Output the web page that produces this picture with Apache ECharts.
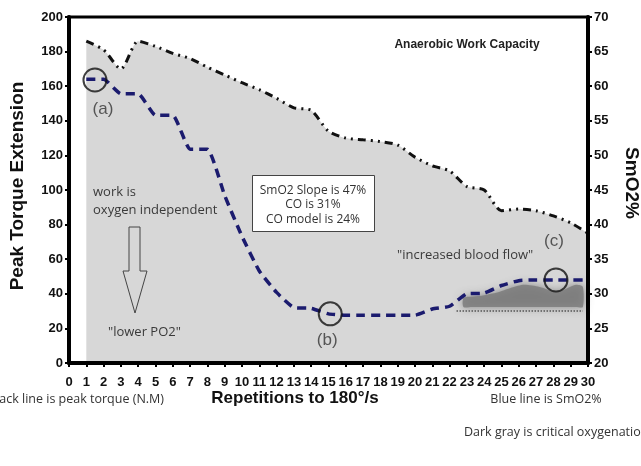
<!DOCTYPE html>
<html><head><meta charset="utf-8">
<script src="https://cdn.jsdelivr.net/npm/echarts@6/dist/echarts.min.js"></script>
<style>html,body{margin:0;padding:0;background:#fff;overflow:hidden}#c{width:641px;height:466px}</style>
</head><body><div id="c"></div>
<script>
// ---- data ----
const reps = [1,2,3,4,5,6,7,8,9,10,11,12,13,14,15,16,17,18,19,20,21,22,23,24,25,26,27,28,29,30];
const peakTorque = [186,181,170,186,183,179,176,171,166.5,162,158,153,147.5,146,134,130,129,128,126,119,114,111,102,100,88,89,88,85,81,75];
const smo2 = [61,61,58.9,58.9,55.8,55.8,50.9,50.9,44.2,38.3,33.3,30.2,28,27.9,27.1,26.9,26.9,26.9,26.9,26.9,27.8,28.2,30,30.1,31.2,31.9,32,32,32,32];
const critX = [22.8,23.3,24,24.9,25.6,26.3,27.2,28.2,28.8,29.3,29.7];
const critTop = [29.4,29.6,29.8,30.3,30.9,31.3,31.0,30.3,30.8,31.3,31.0];
const critBottom = [28.1,28.1,28.1,28.1,28.1,28.1,28.1,28.1,28.1,28.1,28.1];
const critLineX = [22.4,29.7];
const critLineY = [27.5,27.5];
const circlePts = [[1.5,60.9],[15.1,27.1],[28.15,32]];
const circleLabels = ['(a)','(b)','(c)'];
const leftTicks = {min:0,max:200,interval:20};
const rightTicks = {min:20,max:70,interval:5};
const xTicks = {min:0,max:30,interval:1};

const chart = echarts.init(document.getElementById('c'), null, {renderer:'canvas'});
const bold = {color:'#111', fontWeight:'bold', fontSize:13, fontFamily:'Liberation Sans'};
const axisCommon = {
  axisLine:{show:true, lineStyle:{color:'#000', width:4}},
  axisTick:{show:true, length:4, lineStyle:{color:'#000', width:2}},
  splitLine:{show:false}, z:10
};
const txt = (x,y,t,extra) => Object.assign({type:'text', x, y, z:100, style:Object.assign({text:t, fill:'#3a3a3a', font:'13px "Open Sans"', textAlign:'left', textVerticalAlign:'middle'}, extra||{})});
const labelOffsets = [[8,3],[-3,0],[-2,-13]];
const labelPos = ['bottom','bottom','top'];

chart.setOption({
  animation:false,
  backgroundColor:'#fff',
  grid:{left:69, right:53, top:17, bottom:103, show:true, borderColor:'#000', borderWidth:3, backgroundColor:'rgba(0,0,0,0)'},
  xAxis:Object.assign({type:'value', min:xTicks.min, max:xTicks.max, interval:xTicks.interval,
    axisLabel:Object.assign({margin:13}, bold)}, axisCommon),
  yAxis:[
    Object.assign({type:'value', position:'left', min:leftTicks.min, max:leftTicks.max, interval:leftTicks.interval,
      axisLabel:Object.assign({margin:6}, bold)}, axisCommon),
    Object.assign({type:'value', position:'right', min:rightTicks.min, max:rightTicks.max, interval:rightTicks.interval,
      axisLabel:Object.assign({margin:6}, bold)}, axisCommon)
  ],
  series:[
    {name:'Peak torque', type:'line', yAxisIndex:0, smooth:0.25, symbol:'none', z:2,
     data:reps.map((x,i)=>[x,peakTorque[i]]),
     lineStyle:{color:'#111', width:3, type:[8,5,2,5,2,5]},
     areaStyle:{color:'#d7d7d7', opacity:1, origin:'start'}},
    {name:'Critical oxygenation', type:'custom', yAxisIndex:1, z:3,
     data:[0],
     renderItem:function(params, api){
       const top = critX.map((x,i)=>api.coord([x, critTop[i]]));
       const bot = critX.map((x,i)=>api.coord([x, critBottom[i]])).reverse();
       return {type:'polygon', shape:{points:top.concat(bot), smooth:0.25},
         style:{fill:'rgba(125,125,125,0.85)', shadowBlur:10, shadowColor:'rgba(110,110,110,0.9)'}};
     }},
    {name:'critLine', type:'line', yAxisIndex:1, symbol:'none', z:4,
     data:critLineX.map((x,i)=>[x,critLineY[i]]), lineStyle:{type:'dotted', color:'#555', width:1.5}},
    {name:'SmO2', type:'line', yAxisIndex:1, smooth:0.15, symbol:'none', z:5,
     data:reps.map((x,i)=>[x,smo2[i]]),
     lineStyle:{color:'#1b1b6e', width:3.5, type:[9,6]}},
    {name:'circles', type:'scatter', yAxisIndex:1, symbol:'circle', symbolSize:23, z:6,
     itemStyle:{color:'rgba(0,0,0,0)', borderColor:'#111', borderWidth:2},
     data:circlePts.map((p,i)=>({value:p, label:{show:true, formatter:circleLabels[i], position:labelPos[i], offset:labelOffsets[i],
       color:'#333', fontSize:17, fontFamily:'Liberation Sans'}}))}
  ],
  graphic:[
    txt(467,45,'Anaerobic Work Capacity',{font:'bold 12px "Liberation Sans"', fill:'#222', textAlign:'center'}),
    txt(93,192,'work is'),
    txt(93,210,'oxygen independent'),
    {type:'polygon', z:100, shape:{points:[[129,227],[140,227],[140,271],[147,271],[135,313],[123,271],[129,271]]},
     style:{fill:'rgba(0,0,0,0)', stroke:'#444', lineWidth:1}},
    txt(108,332,'"lower PO2"'),
    txt(397,255,'"increased blood flow"'),
    {type:'rect', z:100, shape:{x:252.5,y:175.5,width:122,height:56}, style:{fill:'#fff', stroke:'#444', lineWidth:1}},
    txt(313,191,'SmO2 Slope is 47%',{font:'12px "Open Sans"', textAlign:'center', fill:'#333'}),
    txt(313,205,'CO is 31%',{font:'12px "Open Sans"', textAlign:'center', fill:'#333'}),
    txt(313,220,'CO model is 24%',{font:'12px "Open Sans"', textAlign:'center', fill:'#333'}),
    {type:'text', z:100, x:18, y:186, rotation:Math.PI/2,
     style:{text:'Peak Torque Extension', font:'bold 19px "Liberation Sans"', fill:'#111', textAlign:'center', textVerticalAlign:'middle'}},
    {type:'text', z:100, x:631, y:183, rotation:-Math.PI/2,
     style:{text:'SmO2%', font:'bold 19px "Liberation Sans"', fill:'#111', textAlign:'center', textVerticalAlign:'middle'}},
    txt(295,398,'Repetitions to 180°/s',{font:'bold 17px "Liberation Sans"', fill:'#111', textAlign:'center'}),
    txt(164,399,'Black line is peak torque (N.M)',{textAlign:'right', fill:'#333', font:'12.5px "Open Sans"'}),
    txt(546,399,'Blue line is SmO2%',{textAlign:'center', fill:'#333', font:'12.5px "Open Sans"'}),
    txt(464,432,'Dark gray is critical oxygenation',{fill:'#333', font:'12.5px "Open Sans"'})
  ]
});
</script></body></html>
